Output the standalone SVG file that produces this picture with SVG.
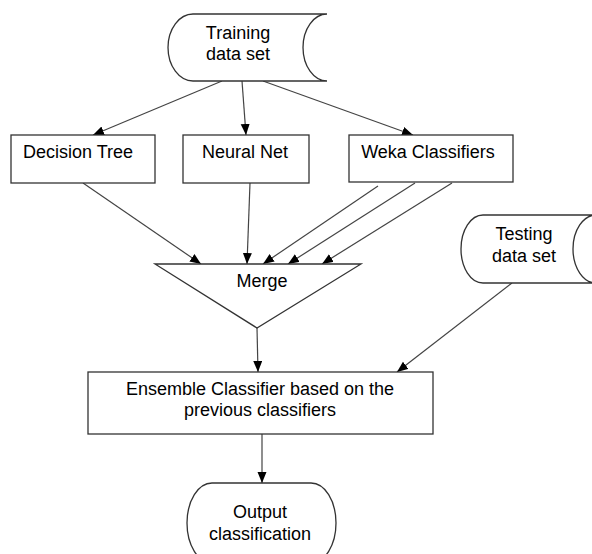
<svg xmlns="http://www.w3.org/2000/svg" width="592" height="554" viewBox="0 0 592 554">
<style>
.shape{fill:#fff;stroke:#333;stroke-width:1.3}
.edge{fill:none;stroke:#444;stroke-width:1.2}
text{font-family:"Liberation Sans",Arial,sans-serif;font-size:18px;fill:#000;text-anchor:middle}
</style>
<defs>
<marker id="arr" markerUnits="userSpaceOnUse" markerWidth="12" markerHeight="10" refX="11" refY="4.5" orient="auto">
<path d="M0,0 L11,4.5 L0,9 z" fill="#000"/>
</marker>
</defs>
<rect width="592" height="554" fill="#fff"/>
<g id="connectors">
<line class="edge" x1="222" y1="81" x2="93" y2="135" marker-end="url(#arr)"/>
<line class="edge" x1="242" y1="81" x2="246" y2="135" marker-end="url(#arr)"/>
<line class="edge" x1="263" y1="81" x2="413" y2="135" marker-end="url(#arr)"/>
<line class="edge" x1="83" y1="183" x2="201" y2="264" marker-end="url(#arr)"/>
<line class="edge" x1="250" y1="183" x2="247" y2="264" marker-end="url(#arr)"/>
<line class="edge" x1="378" y1="186" x2="263" y2="264" marker-end="url(#arr)"/>
<line class="edge" x1="415" y1="183" x2="288" y2="264" marker-end="url(#arr)"/>
<line class="edge" x1="452" y1="183" x2="322" y2="264" marker-end="url(#arr)"/>
<line class="edge" x1="257" y1="328" x2="258" y2="372" marker-end="url(#arr)"/>
<line class="edge" x1="512" y1="283" x2="397" y2="372" marker-end="url(#arr)"/>
<line class="edge" x1="262" y1="434" x2="262" y2="483" marker-end="url(#arr)"/>
</g>
<g id="training">
<path class="shape" d="M193,14 L327,14 A24,33.5 0 0 0 327,81 L193,81 A25,33.5 0 0 1 193,14 Z"/>
<text x="238" y="39">Training</text>
<text x="238" y="60">data set</text>
</g>
<g id="decision-tree">
<rect class="shape" x="11" y="135" width="144" height="48"/>
<text x="78" y="158">Decision Tree</text>
</g>
<g id="neural-net">
<rect class="shape" x="183" y="135" width="126" height="48"/>
<text x="245" y="158">Neural Net</text>
</g>
<g id="weka">
<rect class="shape" x="349" y="135" width="164" height="47"/>
<text x="428" y="158">Weka Classifiers</text>
</g>
<g id="merge">
<path class="shape" d="M155,264 L361,264 L257,328 Z"/>
<text x="262" y="287">Merge</text>
</g>
<g id="testing">
<path class="shape" d="M483,215 L596,215 A23,34 0 0 0 596,283 L483,283 A22,34 0 0 1 483,215 Z"/>
<text x="524" y="240">Testing</text>
<text x="524" y="262">data set</text>
</g>
<g id="ensemble">
<rect class="shape" x="88" y="372" width="345" height="62"/>
<text x="260" y="395">Ensemble Classifier based on the</text>
<text x="260" y="416">previous classifiers</text>
</g>
<g id="output">
<path class="shape" d="M212,483 L311,483 A25,40 0 0 1 311,563 L212,563 A25,40 0 0 1 212,483 Z"/>
<text x="260" y="518">Output</text>
<text x="260" y="540">classification</text>
</g>
</svg>
